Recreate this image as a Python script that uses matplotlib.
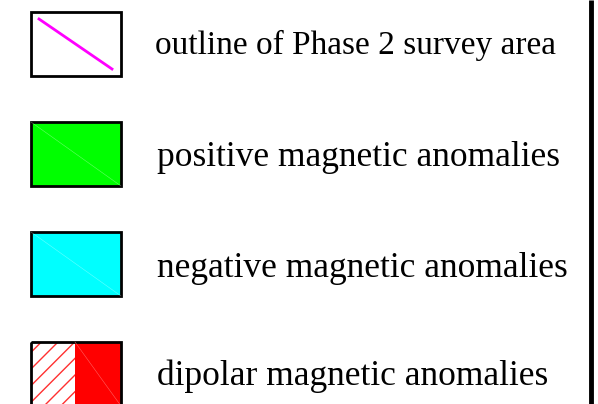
import matplotlib.pyplot as plt
from matplotlib.patches import Rectangle

# Légende : libellés et styles
labels = ["outline of Phase 2 survey area",
          "positive magnetic anomalies",
          "negative magnetic anomalies",
          "dipolar magnetic anomalies"]
fills = ["white", "#00ff00", "#00ffff", "#ff0000"]
box_tops = [12, 122, 232, 342]
text_x = [155, 157, 157, 157]
baselines = [54, 166, 277, 385]
font_sizes = [24, 25.5, 25.5, 25.5]

plt.rcParams["hatch.linewidth"] = 1.0

W, H = 598, 404
fig = plt.figure(figsize=(W / 100, H / 100), dpi=100)
ax = fig.add_axes([0, 0, 1, 1])
ax.set_xlim(0, W)
ax.set_ylim(H, 0)
ax.axis("off")

x0, bw, bh = 31, 90, 64

for i, (lab, col, top) in enumerate(zip(labels, fills, box_tops)):
    if i == 3:
        # moitié hachurée + moitié pleine
        ax.add_patch(Rectangle((x0, top), 44, bh, facecolor="white",
                               edgecolor="#ff3030", hatch="//", lw=0))
        ax.add_patch(Rectangle((x0 + 44, top), bw - 44, bh, facecolor=col, lw=0))
        ax.plot([x0 + 44, x0 + bw], [top, top + bh], color="#ff6060", lw=0.4)
    else:
        ax.add_patch(Rectangle((x0, top), bw, bh, facecolor=col, lw=0))
        if i > 0:
            ax.plot([x0, x0 + bw], [top, top + bh], color="white", lw=0.4, alpha=0.4)
    ax.add_patch(Rectangle((x0, top), bw, bh, fill=False, edgecolor="black", lw=2))
    ax.text(text_x[i], baselines[i], lab, fontsize=font_sizes[i],
            family="Liberation Serif", va="baseline", ha="left", color="black")

# ligne magenta dans le premier cadre
ax.plot([39, 112], [19, 69], color="#ff00ff", lw=2)

# trait vertical à droite
ax.plot([591, 591], [0, H], color="black", lw=3.5, solid_capstyle="butt")

fig.savefig("out.png", dpi=100)
